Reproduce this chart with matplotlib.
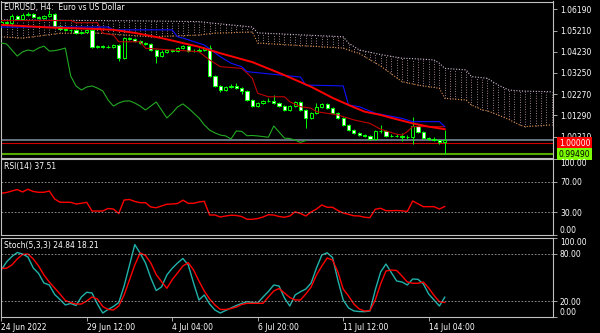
import numpy as np
import matplotlib.pyplot as plt
import matplotlib.transforms as mtransforms

# EURUSD H4 candles, 24 Jun 2022 20:00 .. 14 Jul 2022 16:00
opens = [1.0551, 1.0560, 1.0556, 1.0588, 1.0574, 1.0593, 1.0597, 1.0583, 1.0579, 1.0588,
         1.0597, 1.0542, 1.0528, 1.0524, 1.0522, 1.0510, 1.0514, 1.0524, 1.0445, 1.0449,
         1.0444, 1.0446, 1.0454, 1.0394, 1.0486, 1.0482, 1.0473, 1.0463, 1.0459, 1.0431,
         1.0403, 1.0422, 1.0431, 1.0426, 1.0440, 1.0449, 1.0426, 1.0428, 1.0433, 1.0440,
         1.0311, 1.0265, 1.0246, 1.0260, 1.0265, 1.0255, 1.0242, 1.0200, 1.0172, 1.0186,
         1.0195, 1.0196, 1.0186, 1.0172, 1.0154, 1.0172, 1.0191, 1.0154, 1.0117, 1.0140,
         1.0168, 1.0182, 1.0163, 1.0140, 1.0117, 1.0085, 1.0061, 1.0048, 1.0038, 1.0034,
         1.0020, 1.0057, 1.0055, 1.0035, 1.0036, 1.0034, 1.0031, 1.0028, 1.0080, 1.0052,
         1.0024, 1.0022, 1.0015, 1.0004]
closes = [1.0560, 1.0556, 1.0588, 1.0574, 1.0593, 1.0597, 1.0583, 1.0579, 1.0588, 1.0597,
          1.0542, 1.0528, 1.0524, 1.0522, 1.0510, 1.0514, 1.0524, 1.0445, 1.0449, 1.0444,
          1.0446, 1.0454, 1.0394, 1.0486, 1.0482, 1.0473, 1.0463, 1.0459, 1.0431, 1.0403,
          1.0422, 1.0431, 1.0426, 1.0440, 1.0449, 1.0426, 1.0428, 1.0433, 1.0440, 1.0311,
          1.0265, 1.0246, 1.0260, 1.0265, 1.0255, 1.0242, 1.0200, 1.0172, 1.0186, 1.0195,
          1.0196, 1.0186, 1.0172, 1.0154, 1.0172, 1.0191, 1.0154, 1.0117, 1.0140, 1.0168,
          1.0182, 1.0163, 1.0140, 1.0117, 1.0085, 1.0061, 1.0048, 1.0038, 1.0034, 1.0020,
          1.0057, 1.0055, 1.0035, 1.0036, 1.0034, 1.0031, 1.0028, 1.0080, 1.0052, 1.0024,
          1.0022, 1.0015, 1.0004, 1.0013]
highs = [1.0566, 1.0567, 1.0595, 1.0593, 1.0600, 1.0608, 1.0601, 1.0590, 1.0594, 1.0615,
         1.0602, 1.0547, 1.0532, 1.0530, 1.0527, 1.0520, 1.0530, 1.0528, 1.0455, 1.0454,
         1.0452, 1.0460, 1.0458, 1.0492, 1.0490, 1.0487, 1.0478, 1.0468, 1.0463, 1.0436,
         1.0430, 1.0437, 1.0435, 1.0445, 1.0456, 1.0453, 1.0434, 1.0440, 1.0446, 1.0454,
         1.0316, 1.0270, 1.0266, 1.0272, 1.0277, 1.0259, 1.0247, 1.0204, 1.0192, 1.0201,
         1.0209, 1.0221, 1.0192, 1.0177, 1.0178, 1.0197, 1.0195, 1.0158, 1.0146, 1.0186,
         1.0188, 1.0187, 1.0167, 1.0144, 1.0121, 1.0089, 1.0066, 1.0053, 1.0043, 1.0039,
         1.0063, 1.0085, 1.0060, 1.0041, 1.0043, 1.0048, 1.0040, 1.0121, 1.0086, 1.0057,
         1.0031, 1.0027, 1.0019, 1.0061]
lows = [1.0545, 1.0550, 1.0552, 1.0568, 1.0570, 1.0588, 1.0578, 1.0574, 1.0575, 1.0584,
        1.0536, 1.0522, 1.0519, 1.0516, 1.0505, 1.0504, 1.0509, 1.0440, 1.0440, 1.0439,
        1.0438, 1.0441, 1.0382, 1.0388, 1.0476, 1.0468, 1.0457, 1.0453, 1.0425, 1.0372,
        1.0398, 1.0418, 1.0421, 1.0422, 1.0436, 1.0420, 1.0421, 1.0424, 1.0428, 1.0305,
        1.0260, 1.0236, 1.0241, 1.0254, 1.0249, 1.0228, 1.0194, 1.0166, 1.0167, 1.0181,
        1.0189, 1.0181, 1.0166, 1.0148, 1.0150, 1.0168, 1.0149, 1.0071, 1.0112, 1.0136,
        1.0163, 1.0158, 1.0135, 1.0112, 1.0080, 1.0056, 1.0043, 1.0033, 1.0027, 1.0015,
        1.0014, 1.0049, 1.0030, 1.0030, 1.0029, 1.0011, 1.0020, 0.9998, 1.0046, 1.0019,
        1.0016, 1.0010, 0.9999, 0.9952]

# indicator lines (bar index, price)
ma_bars = [0, 9, 18, 21, 25, 30, 34, 37, 41, 47, 53, 58, 62, 65, 68, 71, 74, 77, 80, 83]
ma_vals = [1.0547, 1.0535, 1.0528, 1.0524, 1.0510, 1.0486, 1.0463, 1.0446, 1.0416, 1.0375,
           1.0315, 1.0261, 1.0210, 1.0177, 1.0146, 1.0131, 1.0111, 1.0092, 1.0077, 1.0065]
kijun_bars = [0, 20, 21, 32, 33, 34, 37, 38, 41, 43, 45, 46, 56, 57, 64, 65, 67, 70, 75, 77, 82, 83]
kijun_vals = [1.0537, 1.0537, 1.0524, 1.0524, 1.0492, 1.0486, 1.0462, 1.0454, 1.0400, 1.0370,
              1.0354, 1.0331, 1.0306, 1.0269, 1.0265, 1.0177, 1.0169, 1.0139, 1.0115, 1.0100,
              1.0100, 1.0077]
tenkan_bars = [0, 13, 14, 18, 19, 21, 22, 26, 27, 37, 39, 41, 45, 46, 47, 48, 50, 53, 54, 56,
               58, 59, 63, 66, 69, 71, 74, 75, 76, 77, 83]
tenkan_vals = [1.0567, 1.0567, 1.0557, 1.0557, 1.0509, 1.0500, 1.0469, 1.0469, 1.0439, 1.0423,
               1.0385, 1.0354, 1.0346, 1.0325, 1.0300, 1.0231, 1.0215, 1.0215, 1.0192, 1.0169,
               1.0162, 1.0146, 1.0131, 1.0108, 1.0092, 1.0065, 1.0042, 1.0038, 1.0054, 1.0077,
               1.0077]
cloud_bars = [0, 4, 11, 18, 28, 37, 40, 47, 48, 64, 65, 67, 71, 75, 78, 81, 82, 83, 87, 88,
              90, 91, 93, 95, 97, 98, 103]
span_top = [1.0570, 1.0570, 1.0568, 1.0567, 1.0565, 1.0562, 1.0554, 1.0537, 1.0510, 1.0492,
            1.0463, 1.0431, 1.0410, 1.0393, 1.0390, 1.0385, 1.0370, 1.0346, 1.0339, 1.0308,
            1.0303, 1.0300, 1.0269, 1.0246, 1.0242, 1.0241, 1.0238]
span_bot = [1.0492, 1.0486, 1.0508, 1.0509, 1.0492, 1.0500, 1.0509, 1.0514, 1.0463, 1.0440,
            1.0431, 1.0415, 1.0357, 1.0285, 1.0269, 1.0258, 1.0254, 1.0208, 1.0200, 1.0177,
            1.0154, 1.0150, 1.0131, 1.0110, 1.0085, 1.0077, 1.0085]

rsi = [54.8, 55.8, 57.8, 59.7, 56.5, 60.1, 57.1, 56.1, 56.1, 57.8,
       47.3, 43.1, 43.0, 43.0, 40.8, 41.7, 43.0, 31.6, 31.6, 31.6,
       34.9, 34.2, 28.4, 46.0, 46.7, 44.1, 42.5, 42.5, 36.9, 35.9,
       38.2, 40.5, 40.8, 41.4, 45.8, 41.7, 41.7, 43.4, 44.3, 26.4,
       26.4, 23.8, 25.1, 26.1, 25.8, 24.4, 20.8, 20.8, 21.8, 23.8,
       26.8, 26.4, 24.4, 23.5, 25.1, 30.6, 28.4, 25.1, 30.3, 34.2,
       39.5, 36.5, 36.5, 32.3, 29.0, 27.3, 25.4, 25.1, 23.5, 22.9,
       33.9, 35.2, 32.0, 32.0, 32.3, 31.9, 31.0, 44.7, 41.0, 37.3,
       37.3, 37.3, 34.2, 37.51]
stoch_main = [59.3, 69.5, 76.4, 81.5, 79.6, 75.8, 61.9, 54.9, 42.8, 40.3,
              28.3, 21.9, 15.0, 16.9, 14.3, 25.1, 31.1, 30.2, 16.2, 4.8,
              9.3, 13.1, 18.1, 39.0, 65.3, 91.5, 80.6, 68.2, 49.2, 33.3,
              37.8, 53.0, 61.5, 68.2, 73.9, 65.7, 42.8, 21.3, 27.6, 16.2,
              8.6, 4.8, 8.0, 11.2, 14.3, 16.9, 19.1, 18.1, 17.5, 25.1,
              32.1, 40.3, 39.0, 23.8, 13.7, 27.6, 31.8, 35.2, 42.8, 61.9,
              78.3, 81.1, 75.2, 46.6, 21.3, 11.2, 7.4, 6.7, 6.5, 7.4,
              34.0, 56.8, 66.9, 56.1, 45.4, 44.1, 40.3, 47.9, 47.5, 41.6,
              28.9, 21.3, 13.7, 24.84]
stoch_signal = [61.5, 61.5, 65.7, 73.3, 79.0, 79.6, 73.3, 64.4, 53.0, 44.1,
                36.5, 28.9, 20.7, 18.1, 16.2, 16.2, 20.0, 25.1, 22.6, 13.1,
                9.3, 8.6, 13.7, 27.6, 46.6, 65.7, 80.9, 77.7, 68.2, 53.6,
                44.6, 36.1, 47.0, 55.6, 64.4, 68.7, 59.3, 45.4, 32.7, 22.6,
                15.0, 9.3, 9.3, 10.5, 12.4, 15.6, 17.1, 17.1, 17.1, 17.1,
                25.1, 32.7, 35.9, 30.2, 24.5, 21.3, 21.3, 28.9, 37.8, 53.0,
                64.4, 74.5, 72.0, 56.8, 35.2, 26.4, 16.2, 9.9, 7.4, 8.0,
                21.3, 41.6, 58.0, 59.3, 58.7, 51.7, 44.1, 42.5, 42.5, 44.1,
                36.5, 27.0, 19.1, 18.21]

price_ticks = [1.0619, 1.0521, 1.0423, 1.0325, 1.0227, 1.0129, 1.0031]
time_ticks = [0, 16, 32, 48, 64, 80]
time_labels = ['24 Jun 2022', '29 Jun 12:00', '4 Jul 04:00', '6 Jul 20:00', '11 Jul 12:00', '14 Jul 04:00']
hline_red = 1.0
hline_green = 0.9949

FG = '#c0c0c0'
FS = 5.5

fig = plt.figure(figsize=(6, 3.33), dpi=100, facecolor='black')
L = 1.2 / 600
W = (553 - 1.2) / 600
ax = fig.add_axes([L, 1 - 157.5 / 333, W, 156 / 333])
ax_rsi = fig.add_axes([L, 1 - 235.2 / 333, W, 76.5 / 333])
ax_st = fig.add_axes([L, 1 - 316.8 / 333, W, 78.9 / 333])

for a in (ax, ax_rsi, ax_st):
    a.set_facecolor('black')
    for s in a.spines.values():
        s.set_color(FG)
        s.set_linewidth(0.8)
    a.set_xlim(0, 103.26)
    a.yaxis.tick_right()
    a.tick_params(axis='y', colors=FG, labelcolor='white', labelsize=FS, length=3, width=0.6, pad=2)
    a.tick_params(axis='x', bottom=False, labelbottom=False)

# --- main chart ---
x = np.arange(len(closes))
o = np.array(opens)
c = np.array(closes)
up = c >= o

# ichimoku cloud (dotted hatch)
cb = np.arange(cloud_bars[0], cloud_bars[-1] + 1)
top_i = np.interp(cb, cloud_bars, span_top)
bot_i = np.interp(cb, cloud_bars, span_bot)
ax.vlines(cb, bot_i, top_i, colors='#c8a8b8', linestyles=(0, (1, 2)), lw=0.6, zorder=1)
ax.plot(cloud_bars, span_top, color='#d8bfd8', ls=(0, (1, 1.5)), lw=0.8, zorder=1)
ax.plot(cloud_bars, span_bot, color='#e0904a', ls=(0, (1, 1.5)), lw=0.8, zorder=1)

ax.axhline(hline_red, color='#d00000', lw=0.8, zorder=2)
ax.axhline(hline_green, color='#55aa00', lw=1.5, zorder=2)
ax.axhline(closes[-1], color='#778899', lw=1.2, zorder=2)

ax.vlines(x, lows, highs, color='#00ff00', lw=0.7, zorder=3)
hgt = np.maximum(np.abs(c - o), 0.00005)
ax.bar(x[up], hgt[up], bottom=np.minimum(o, c)[up], width=0.6, color='black',
       edgecolor='#00ff00', lw=0.7, zorder=4)
ax.bar(x[~up], hgt[~up], bottom=np.minimum(o, c)[~up], width=0.6, color='white',
       edgecolor='#00ff00', lw=0.7, zorder=4)

# chikou span = closes shifted back 26 bars
ax.plot(x[:len(closes) - 26], closes[26:], color='#22aa22', lw=0.8, zorder=5)
ax.plot(tenkan_bars, tenkan_vals, color='#c00000', lw=0.8, zorder=5)
ax.plot(kijun_bars, kijun_vals, color='#1010ff', lw=0.8, zorder=5)
ax.plot(ma_bars, ma_vals, color='#ff0000', lw=1.4, zorder=6)

ax.set_ylim(0.99344, 1.06550)
ax.set_yticks(price_ticks)
ax.set_yticklabels([f'{v:.5f}' for v in price_ticks])

tr = mtransforms.blended_transform_factory(ax.transAxes, ax.transData)
ax.text(1.0105, hline_red, f'{hline_red:.5f}', transform=tr, color='white', fontsize=FS,
        va='center', ha='left', clip_on=False, zorder=10,
        bbox=dict(boxstyle='square,pad=0.22', facecolor='#ff0000', edgecolor='none'))
ax.text(1.0105, hline_green, f'{hline_green:.5f}', transform=tr, color='black', fontsize=FS,
        va='center', ha='left', clip_on=False, zorder=10,
        bbox=dict(boxstyle='square,pad=0.18', facecolor='#7cfc00', edgecolor='none'))

fig.text(4 / 600, 1 - 7.5 / 333, 'EURUSD, H4:  Euro vs US Dollar', color='white',
         fontsize=FS, va='center', ha='left')

# --- RSI ---
ax_rsi.plot(x, rsi, color='#ff0000', lw=1.0)
ax_rsi.set_ylim(0, 100)
for lv in (70, 30):
    ax_rsi.axhline(lv, color='#a0a0a0', ls=(0, (2, 2)), lw=0.6)
ax_rsi.set_yticks([100, 70, 30, 0])
ax_rsi.set_yticklabels(['100.00', '70.00', '30.00', '0.00'])
fig.text(4 / 600, 1 - 166.7 / 333, f'RSI(14) {rsi[-1]:.2f}', color='white',
         fontsize=FS, va='center', ha='left')

# --- Stochastic ---
ax_st.plot(x, stoch_main, color='#20b2aa', lw=1.0)
ax_st.plot(x, stoch_signal, color='#ff0000', lw=1.0)
ax_st.set_ylim(0, 100)
for lv in (80, 20):
    ax_st.axhline(lv, color='#a0a0a0', ls=(0, (2, 2)), lw=0.6)
ax_st.set_yticks([100, 80, 20, 0])
ax_st.set_yticklabels(['100.00', '80.00', '20.00', '0.00'])
fig.text(4 / 600, 1 - 245.5 / 333, f'Stoch(5,3,3) {stoch_main[-1]:.2f} {stoch_signal[-1]:.2f}',
         color='white', fontsize=FS, va='center', ha='left')

for a in (ax_rsi, ax_st):
    lbls = a.get_yticklabels()
    lbls[0].set_va('top')
    lbls[-1].set_va('bottom')

ax_st.set_xticks(time_ticks)
ax_st.set_xticklabels(time_labels)
ax_st.tick_params(axis='x', bottom=True, labelbottom=True, colors=FG, labelcolor='white',
                  labelsize=FS, length=3, width=0.6, pad=1.5)
for t in ax_st.get_xticklabels():
    t.set_ha('left')

fig.savefig('out.png', dpi=100, facecolor='black')
